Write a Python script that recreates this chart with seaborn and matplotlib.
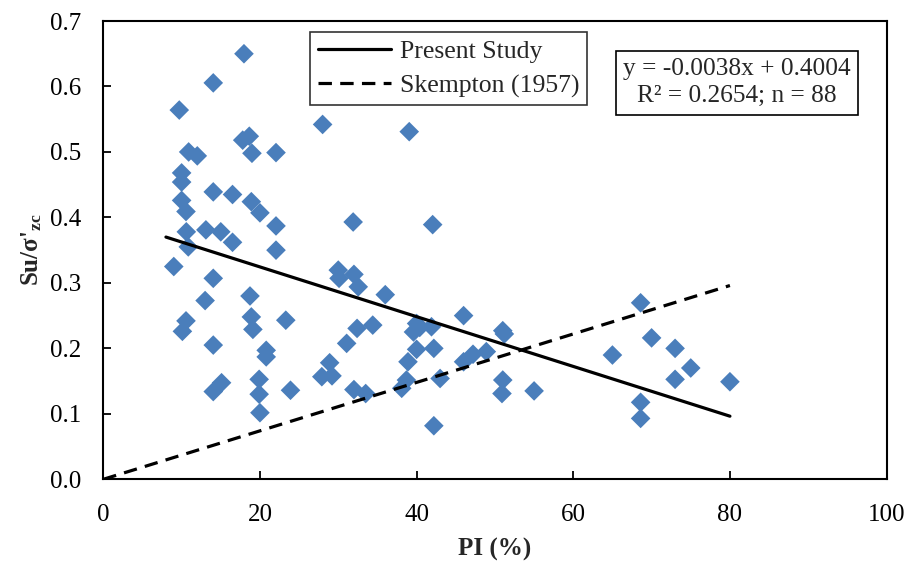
import numpy as np
import pandas as pd
import matplotlib
matplotlib.use("Agg")
import matplotlib.pyplot as plt
import seaborn as sns

# ---- data ----
pi_vals = [17.96, 14.04, 9.7, 18.64, 17.8, 18.98, 22.05, 10.9, 12.0, 10.0,
           10.0, 14.04, 16.5, 10.0, 18.9, 20.0, 10.56, 22.05, 10.6, 13.1,
           15.0, 16.5, 10.85, 22.05, 9.0, 14.04, 18.73, 13.0, 18.9, 10.56,
           23.3, 10.1, 19.1, 14.04, 20.8, 20.8, 15.1, 14.04, 19.9, 19.9,
           23.9, 20.0, 28.0, 39.06, 31.9, 42.05, 30.0, 30.1, 32.0, 32.55,
           36.0, 32.4, 34.4, 31.07, 40.0, 39.6, 41.9, 42.2, 40.0, 46.0,
           51.0, 51.2, 47.2, 46.0, 48.9, 38.9, 28.9, 27.9, 29.2, 32.0,
           33.5, 38.1, 38.7, 43.0, 51.0, 50.9, 55.0, 42.2, 68.6, 65.0,
           70.0, 73.0, 75.0, 73.0, 80.0, 68.6, 68.6, 40.4]
su_vals = [0.650, 0.6055, 0.564, 0.524, 0.518, 0.498, 0.499, 0.500, 0.494, 0.468,
           0.454, 0.439, 0.435, 0.426, 0.424, 0.407, 0.409, 0.387, 0.378, 0.381,
           0.378, 0.362, 0.355, 0.350, 0.325, 0.307, 0.280, 0.273, 0.248, 0.242,
           0.243, 0.226, 0.229, 0.205, 0.197, 0.187, 0.1475, 0.134, 0.1527, 0.130,
           0.136, 0.1017, 0.542, 0.531, 0.393, 0.389, 0.3195, 0.307, 0.313, 0.294,
           0.282, 0.2305, 0.2355, 0.2076, 0.238, 0.225, 0.233, 0.200, 0.1985, 0.250,
           0.227, 0.222, 0.191, 0.1795, 0.195, 0.1795, 0.178, 0.1567, 0.158, 0.137,
           0.131, 0.139, 0.1516, 0.154, 0.1516, 0.131, 0.135, 0.0818, 0.2696, 0.1898,
           0.216, 0.200, 0.170, 0.1527, 0.149, 0.1176, 0.093, 0.232]

fit_slope, fit_intercept = -0.0038, 0.4004
fit_range = [8, 80]
skempton_slope = 0.0037
skempton_range = [0, 80]

x_ticks = [0, 20, 40, 60, 80, 100]
y_ticks = [0.0, 0.1, 0.2, 0.3, 0.4, 0.5, 0.6, 0.7]

# ---- styling ----
sns.set_theme(style="white")
plt.rcParams['font.family'] = ['Liberation Serif', 'DejaVu Serif']
plt.rcParams['mathtext.fontset'] = 'custom'
plt.rcParams['mathtext.rm'] = 'Liberation Serif'
plt.rcParams['mathtext.it'] = 'Liberation Serif:italic'
plt.rcParams['mathtext.bf'] = 'Liberation Serif:bold'

FS = 18

fig = plt.figure(figsize=(9.14, 5.71), dpi=100)
ax = fig.add_axes([0.113, 0.1606, 0.857, 0.8026])

scatter_df = pd.DataFrame({"PI": pi_vals, "Su": su_vals})
sns.scatterplot(data=scatter_df, x="PI", y="Su", marker="D", s=100,
                color="#4A7EBB", edgecolor="none", ax=ax, zorder=2, legend=False)

fx = np.array(fit_range, dtype=float)
fit_df = pd.DataFrame({"PI": fx, "Su": fit_slope * fx + fit_intercept})
sx = np.array(skempton_range, dtype=float)
sk_df = pd.DataFrame({"PI": sx, "Su": skempton_slope * sx})

sns.lineplot(data=fit_df, x="PI", y="Su", color="black", linewidth=2.3,
             ax=ax, label="Present Study", zorder=3)
sns.lineplot(data=sk_df, x="PI", y="Su", color="black", linewidth=2.3,
             linestyle=(0, (4.2, 2.6)), ax=ax, label="Skempton (1957)", zorder=3)

ax.set_xlim(0, 100)
ax.set_ylim(0, 0.7)
ax.set_xticks(x_ticks)
ax.set_xticklabels([str(t) for t in x_ticks])
ax.set_yticks(y_ticks)
ax.set_yticklabels([f"{t:.1f}" for t in y_ticks])
ax.tick_params(axis='both', direction='in', length=6, width=1.3,
               labelsize=FS, colors='black',
               left=True, bottom=True, top=False, right=False)
ax.tick_params(axis='y', pad=16)
ax.tick_params(axis='x', pad=18)
for sp in ax.spines.values():
    sp.set_color('black')
    sp.set_linewidth(1.5)

ax.set_xlabel("PI (%)", fontsize=FS, fontweight='bold', labelpad=8)
ax.set_ylabel("Su/σ'$_{\\mathbf{zc}}$", fontsize=FS, fontweight='bold', labelpad=4)

leg = ax.legend(loc='upper left', bbox_to_anchor=(0.264, 0.976), fontsize=FS + 0.5,
                frameon=True, fancybox=False, edgecolor='black',
                handlelength=2.85, handletextpad=0.35, borderpad=0.3,
                labelspacing=0.45, borderaxespad=0)
leg.get_frame().set_linewidth(1.2)

ax.text(0.809, 0.865, "y = -0.0038x + 0.4004\nR² = 0.2654; n = 88",
        transform=ax.transAxes, ha='center', va='center', fontsize=FS + 0.3,
        linespacing=1.3,
        bbox=dict(boxstyle='square,pad=0.3', facecolor='white',
                  edgecolor='black', linewidth=1.2))

fig.savefig("out.png", dpi=100)
